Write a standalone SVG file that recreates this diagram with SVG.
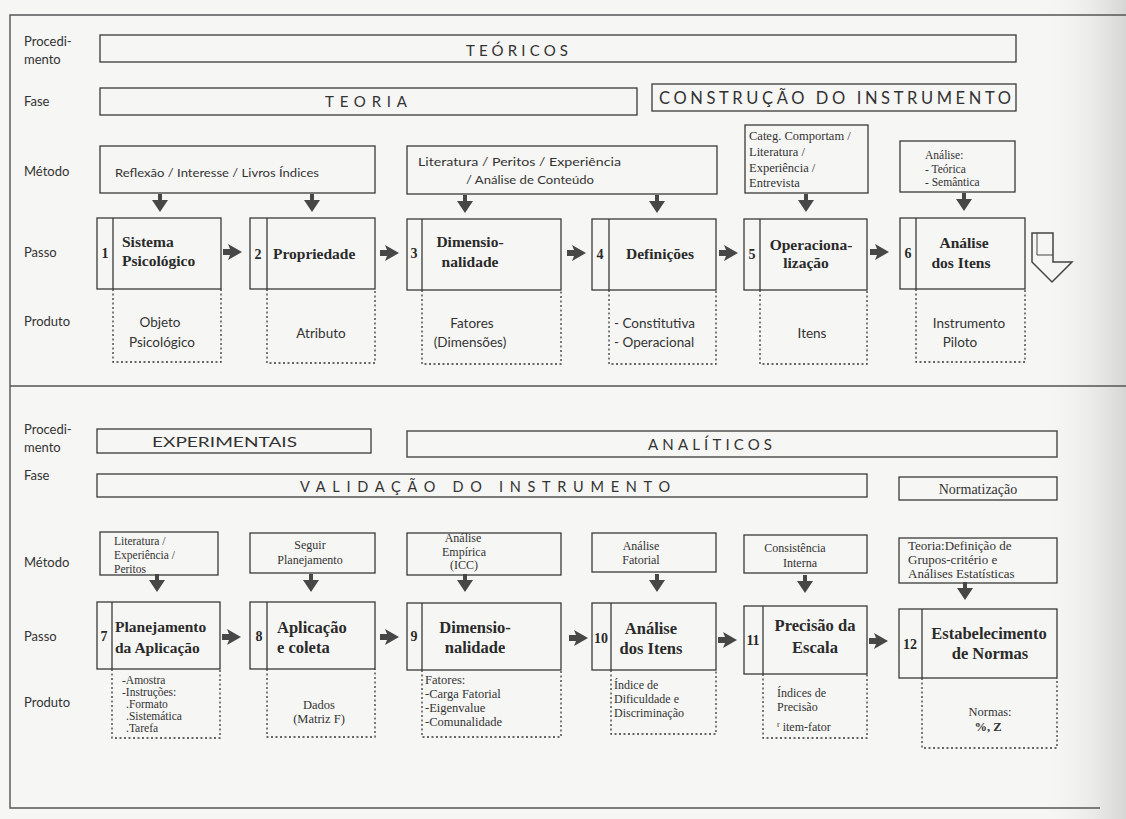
<svg xmlns="http://www.w3.org/2000/svg" width="1126" height="819" viewBox="0 0 1126 819">
<defs>
<style>
.bx{fill:none;stroke:#3a3a3a;stroke-width:1.3}
.ds{fill:none;stroke:#3a3a3a;stroke-width:1.3;stroke-dasharray:2 2.5}
.fr{fill:none;stroke:#555;stroke-width:1.4}
.lb{font-family:Lato,"Liberation Sans",sans-serif;font-size:13px;fill:#333}
.hd{font-family:Lato,"Liberation Sans",sans-serif;font-size:15px;fill:#333}
.mt{font-family:Lato,"Liberation Sans",sans-serif;font-size:11.5px;fill:#333}
.ms{font-family:"Liberation Serif",serif;font-size:11.5px;fill:#333}
.tt{font-family:"Liberation Serif",serif;font-size:15.5px;font-weight:bold;fill:#2a2a2a}
.tb{font-family:"Liberation Serif",serif;font-size:15.5px;font-weight:bold;fill:#2a2a2a}
.nm{font-family:"Liberation Serif",serif;font-size:14px;font-weight:bold;fill:#2a2a2a}
.pr{font-family:Lato,"Liberation Sans",sans-serif;font-size:13.5px;fill:#333}
.ps{font-family:"Liberation Serif",serif;font-size:12px;fill:#333}
.c{text-anchor:middle}
.ar{fill:#474747}
.ho{fill:none;stroke:#444;stroke-width:1.5;stroke-linejoin:miter}
</style>
<linearGradient id="sh" x1="0" y1="0" x2="1" y2="0">
<stop offset="0" stop-color="#f6f6f4" stop-opacity="0"/>
<stop offset="1" stop-color="#d6d6d4"/>
</linearGradient>
<path id="ra" d="M0,-3 H7 L5,-8 L19,0 L5,8 L7,3 H0 Z"/>
<path id="da" d="M-2,-6 H2 V0 H8 L0,12 L-8,0 H-2 Z"/>
</defs>

<rect x="0" y="0" width="1126" height="819" fill="#f6f6f4"/>
<rect x="1040" y="0" width="86" height="819" fill="url(#sh)"/>

<g id="frame">
<path class="fr" d="M1126,15 H10 V808 H1100"/>
<path class="fr" d="M10,386 H1126"/>
</g>

<g id="row-labels">
<text class="lb" x="24" y="46">Procedi-</text>
<text class="lb" x="24" y="64">mento</text>
<text class="lb" x="24" y="106">Fase</text>
<text class="lb" x="24" y="176">Método</text>
<text class="lb" x="24" y="257">Passo</text>
<text class="lb" x="24" y="326">Produto</text>
<text class="lb" x="24" y="434">Procedi-</text>
<text class="lb" x="24" y="452">mento</text>
<text class="lb" x="24" y="480">Fase</text>
<text class="lb" x="24" y="567">Método</text>
<text class="lb" x="24" y="641">Passo</text>
<text class="lb" x="24" y="707">Produto</text>
</g>

<g id="proc-teoricos">
<rect class="bx" x="100" y="35" width="916" height="27"/>
<text class="hd" x="466" y="56" textLength="102" lengthAdjust="spacing">TEÓRICOS</text>
</g>
<g id="fase-teoria">
<rect class="bx" x="100" y="88" width="537" height="27"/>
<text class="hd" x="325" y="107" textLength="82" lengthAdjust="spacing">TEORIA</text>
</g>
<g id="fase-construcao">
<rect class="bx" x="652" y="84" width="364" height="27"/>
<text class="hd" x="659" y="104" style="font-size:16.5px" textLength="352" lengthAdjust="spacing">CONSTRUÇÃO DO INSTRUMENTO</text>
</g>

<g id="metodo-1">
<rect class="bx" x="100" y="146" width="275" height="47"/>
<text class="mt" x="115" y="177" textLength="204" lengthAdjust="spacingAndGlyphs">Reflexão / Interesse / Livros Índices</text>
</g>
<g id="metodo-2">
<rect class="bx" x="407" y="146" width="310" height="48"/>
<text class="mt" x="418" y="166" textLength="203" lengthAdjust="spacingAndGlyphs">Literatura / Peritos / Experiência</text>
<text class="mt" x="466" y="184" textLength="128" lengthAdjust="spacingAndGlyphs">/ Análise de Conteúdo</text>
</g>
<g id="metodo-3">
<rect class="bx" x="745" y="125" width="123" height="68"/>
<text class="ms" x="749" y="140" style="font-size:12.5px">Categ. Comportam /</text>
<text class="ms" x="749" y="156" style="font-size:12.5px">Literatura /</text>
<text class="ms" x="749" y="172" style="font-size:12.5px">Experiência /</text>
<text class="ms" x="749" y="187" style="font-size:12.5px">Entrevista</text>
</g>
<g id="metodo-4">
<rect class="bx" x="900" y="141" width="115" height="51"/>
<text class="ms" x="925" y="159">Análise:</text>
<text class="ms" x="925" y="173">- Teórica</text>
<text class="ms" x="925" y="186">- Semântica</text>
</g>

<g id="passo-1">
<rect class="bx" x="97" y="218" width="124" height="71"/>
<path class="bx" d="M113,218 V289"/>
<text class="nm c" x="105" y="258">1</text>
<text class="tt" x="122" y="247">Sistema</text>
<text class="tt" x="122" y="266">Psicológico</text>
<path class="ds" d="M113,289 V362 H221 V289"/>
<text class="pr c" x="160" y="327">Objeto</text>
<text class="pr c" x="162" y="347">Psicológico</text>
</g>
<g id="passo-2">
<rect class="bx" x="250" y="218" width="125" height="71"/>
<path class="bx" d="M267,218 V289"/>
<text class="nm c" x="258" y="259">2</text>
<text class="tt" x="273" y="259">Propriedade</text>
<path class="ds" d="M267,289 V363 H375 V289"/>
<text class="pr c" x="321" y="338">Atributo</text>
</g>
<g id="passo-3">
<rect class="bx" x="407" y="219" width="154" height="71"/>
<path class="bx" d="M422,219 V290"/>
<text class="nm c" x="414" y="258">3</text>
<text class="tt c" x="470" y="247">Dimensio-</text>
<text class="tt c" x="470" y="267">nalidade</text>
<path class="ds" d="M422,290 V364 H561 V290"/>
<text class="pr c" x="472" y="328">Fatores</text>
<text class="pr c" x="470" y="347">(Dimensões)</text>
</g>
<g id="passo-4">
<rect class="bx" x="592" y="219" width="124" height="71"/>
<path class="bx" d="M609,219 V290"/>
<text class="nm c" x="600" y="259">4</text>
<text class="tt c" x="660" y="259">Definições</text>
<path class="ds" d="M609,290 V364 H716 V290"/>
<text class="pr" x="614" y="328">- Constitutiva</text>
<text class="pr" x="614" y="347">- Operacional</text>
</g>
<g id="passo-5">
<rect class="bx" x="744" y="219" width="123" height="71"/>
<path class="bx" d="M760,219 V290"/>
<text class="nm c" x="752" y="259">5</text>
<text class="tt c" x="811" y="250">Operaciona-</text>
<text class="tt c" x="806" y="268">lização</text>
<path class="ds" d="M760,290 V364 H867 V290"/>
<text class="pr c" x="812" y="338">Itens</text>
</g>
<g id="passo-6">
<rect class="bx" x="900" y="218" width="125" height="71"/>
<path class="bx" d="M916,218 V289"/>
<text class="nm c" x="908" y="258">6</text>
<text class="tt c" x="964" y="248">Análise</text>
<text class="tt c" x="961" y="268">dos Itens</text>
<path class="ds" d="M916,289 V362 H1025 V289"/>
<text class="pr c" x="969" y="328">Instrumento</text>
<text class="pr c" x="960" y="347">Piloto</text>
</g>

<g id="proc-experimentais">
<rect class="bx" x="97" y="429" width="274" height="24"/>
<text class="hd" x="152" y="447" style="font-size:14px" textLength="145" lengthAdjust="spacingAndGlyphs">EXPERIMENTAIS</text>
</g>
<g id="proc-analiticos">
<rect class="bx" x="407" y="431" width="650" height="26"/>
<text class="hd" x="648" y="450" textLength="124" lengthAdjust="spacing">ANALÍTICOS</text>
</g>
<g id="fase-validacao">
<rect class="bx" x="97" y="474" width="770" height="23"/>
<text class="hd" x="300" y="492" style="font-size:14.5px" textLength="370" lengthAdjust="spacing">VALIDAÇÃO DO INSTRUMENTO</text>
</g>
<g id="fase-normatizacao">
<rect class="bx" x="899" y="477" width="158" height="23"/>
<text class="ms c" x="978" y="494" style="font-size:14px">Normatização</text>
</g>

<g id="metodo-7">
<rect class="bx" x="100" y="532" width="118" height="43"/>
<text class="ps" x="114" y="545" style="font-size:11.5px">Literatura /</text>
<text class="ps" x="114" y="559" style="font-size:11.5px">Experiência /</text>
<text class="ps" x="114" y="573" style="font-size:11.5px">Peritos</text>
</g>
<g id="metodo-8">
<rect class="bx" x="250" y="533" width="125" height="40"/>
<text class="ms c" x="310" y="549" style="font-size:12px">Seguir</text>
<text class="ms c" x="310" y="564" style="font-size:12px">Planejamento</text>
</g>
<g id="metodo-9">
<rect class="bx" x="407" y="533" width="154" height="42"/>
<text class="ms c" x="463" y="542" style="font-size:12px">Análise</text>
<text class="ms c" x="464" y="556" style="font-size:12px">Empírica</text>
<text class="ms c" x="464" y="569" style="font-size:12px">(ICC)</text>
</g>
<g id="metodo-10">
<rect class="bx" x="592" y="533" width="124" height="39"/>
<text class="ms c" x="641" y="550" style="font-size:12px">Análise</text>
<text class="ms c" x="641" y="564" style="font-size:12px">Fatorial</text>
</g>
<g id="metodo-11">
<rect class="bx" x="744" y="535" width="123" height="38"/>
<text class="ms c" x="795" y="552" style="font-size:12px">Consistência</text>
<text class="ms c" x="800" y="567" style="font-size:12px">Interna</text>
</g>
<g id="metodo-12">
<rect class="bx" x="899" y="538" width="158" height="45"/>
<text class="ms" x="908" y="550" style="font-size:13px">Teoria:Definição de</text>
<text class="ms" x="908" y="564" style="font-size:13px">Grupos-critério e</text>
<text class="ms" x="908" y="578" style="font-size:13px">Análises Estatísticas</text>
</g>

<g id="passo-7">
<rect class="bx" x="97" y="602" width="123" height="67"/>
<path class="bx" d="M112,602 V669"/>
<text class="nm c" x="104" y="641">7</text>
<text class="tt" x="115" y="632">Planejamento</text>
<text class="tt" x="115" y="653">da Aplicação</text>
<path class="ds" d="M112,669 V738 H220 V669"/>
<text class="ps" x="122" y="684" style="font-size:11.5px">-Amostra</text>
<text class="ps" x="122" y="696" style="font-size:11.5px">-Instruções:</text>
<text class="ps" x="126" y="708" style="font-size:11.5px">.Formato</text>
<text class="ps" x="126" y="720" style="font-size:11.5px">.Sistemática</text>
<text class="ps" x="126" y="732" style="font-size:11.5px">.Tarefa</text>
</g>
<g id="passo-8">
<rect class="bx" x="250" y="602" width="125" height="67"/>
<path class="bx" d="M267,602 V669"/>
<text class="nm c" x="259" y="641">8</text>
<text class="tb" x="277" y="633" style="font-size:16.5px">Aplicação</text>
<text class="tb" x="277" y="653" style="font-size:16.5px">e coleta</text>
<path class="ds" d="M267,669 V737 H375 V669"/>
<text class="ps c" x="319" y="709" style="font-size:12.5px">Dados</text>
<text class="ps c" x="319" y="723" style="font-size:12.5px">(Matriz F)</text>
</g>
<g id="passo-9">
<rect class="bx" x="407" y="603" width="154" height="67"/>
<path class="bx" d="M422,603 V670"/>
<text class="nm c" x="414" y="641">9</text>
<text class="tb c" x="475" y="633" style="font-size:16.5px">Dimensio-</text>
<text class="tb c" x="475" y="653" style="font-size:16.5px">nalidade</text>
<path class="ds" d="M422,670 V737 H561 V670"/>
<text class="ps" x="425" y="684" style="font-size:12.5px">Fatores:</text>
<text class="ps" x="425" y="698" style="font-size:12.5px">-Carga Fatorial</text>
<text class="ps" x="425" y="712" style="font-size:12.5px">-Eigenvalue</text>
<text class="ps" x="425" y="726" style="font-size:12.5px">-Comunalidade</text>
</g>
<g id="passo-10">
<rect class="bx" x="592" y="603" width="124" height="67"/>
<path class="bx" d="M611,603 V670"/>
<text class="nm c" x="601" y="643">10</text>
<text class="tb c" x="651" y="634" style="font-size:16.5px">Análise</text>
<text class="tb c" x="651" y="654" style="font-size:16.5px">dos Itens</text>
<path class="ds" d="M611,670 V734 H716 V670"/>
<text class="ps" x="614" y="689">Índice de</text>
<text class="ps" x="614" y="703">Dificuldade e</text>
<text class="ps" x="614" y="717">Discriminação</text>
</g>
<g id="passo-11">
<rect class="bx" x="744" y="606" width="123" height="68"/>
<path class="bx" d="M763,606 V674"/>
<text class="nm c" x="753" y="645">11</text>
<text class="tb c" x="815" y="631" style="font-size:16.5px">Precisão da</text>
<text class="tb c" x="815" y="653" style="font-size:16.5px">Escala</text>
<path class="ds" d="M763,674 V738 H867 V674"/>
<text class="ps" x="777" y="697">Índices de</text>
<text class="ps" x="777" y="711">Precisão</text>
<text class="ps" x="777" y="731"><tspan style="font-size:8px" dy="-4">r</tspan><tspan dy="4"> item-fator</tspan></text>
</g>
<g id="passo-12">
<rect class="bx" x="899" y="609" width="158" height="69"/>
<path class="bx" d="M922,609 V678"/>
<text class="nm c" x="910" y="649">12</text>
<text class="tb c" x="989" y="639" style="font-size:16.5px">Estabelecimento</text>
<text class="tb c" x="990" y="659" style="font-size:16.5px">de Normas</text>
<path class="ds" d="M922,678 V748 H1057 V678"/>
<text class="ps c" x="990" y="716" style="font-size:12.5px">Normas:</text>
<text class="ps c" x="988" y="731" style="font-size:12.5px;font-weight:bold">%, Z</text>
</g>

<g id="connectors" class="ar">
<use href="#da" x="160" y="200"/>
<use href="#da" x="312" y="200"/>
<use href="#da" x="465" y="201"/>
<use href="#da" x="657" y="201"/>
<use href="#da" x="806" y="200"/>
<use href="#da" x="964" y="199"/>
<use href="#ra" x="223" y="252"/>
<use href="#ra" x="380" y="253"/>
<use href="#ra" x="567" y="253"/>
<use href="#ra" x="719" y="253"/>
<use href="#ra" x="870" y="252"/>
<path class="ho" d="M1032,233 H1053 V262 H1072 L1052,282 L1032,262 Z"/>
<path class="ho" style="stroke-width:1" d="M1037,233 V255 H1053"/>
<use href="#da" x="157" y="580"/>
<use href="#da" x="311" y="580"/>
<use href="#da" x="465" y="580"/>
<use href="#da" x="657" y="580"/>
<use href="#da" x="805" y="581"/>
<use href="#da" x="965" y="588"/>
<use href="#ra" x="222" y="637"/>
<use href="#ra" x="380" y="637"/>
<use href="#ra" x="569" y="638"/>
<use href="#ra" x="718" y="640"/>
<use href="#ra" x="869" y="641"/>
</g>
</svg>
